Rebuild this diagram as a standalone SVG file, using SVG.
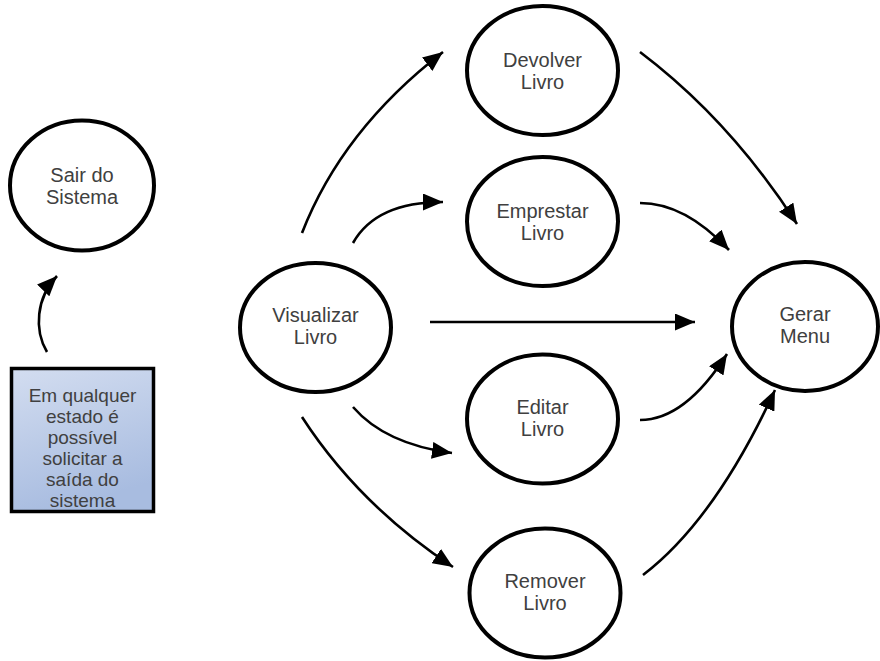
<svg xmlns="http://www.w3.org/2000/svg" width="880" height="661" viewBox="0 0 880 661">
  <style>
    .state ellipse { fill: #ffffff; stroke: #000000; stroke-width: 4; }
    .label { font-family: "Liberation Sans", Arial, sans-serif; font-size: 20px; fill: #404040; text-anchor: middle; }
    .note .label { font-size: 19px; }
    .flow path { fill: none; stroke: #000000; stroke-width: 2.6; marker-end: url(#arrow); }
    .note rect { fill: url(#noteFill); stroke: #000000; stroke-width: 3.5; }
  </style>
  <defs>
    <marker id="arrow" markerUnits="userSpaceOnUse" markerWidth="21" markerHeight="17" refX="20" refY="8.5" orient="auto">
      <path d="M0,0 L20,8.5 L0,17 z" fill="#000000"/>
    </marker>
    <linearGradient id="noteFill" x1="0" y1="0" x2="0.3" y2="1">
      <stop offset="0" stop-color="#d3ddf0"/>
      <stop offset="1" stop-color="#a8bce0"/>
    </linearGradient>
  </defs>

  <rect width="880" height="661" fill="#ffffff"/>

  <!-- connectors -->
  <g id="connectors" class="flow">
    <path d="M47,352 C34,330 36,298 57,276"/>
    <path d="M302,233 Q342,130 443,52"/>
    <path d="M353,243 Q376,202 443,202"/>
    <path d="M430,322 L695,322"/>
    <path d="M353,407 Q385,444 452,453"/>
    <path d="M302,417 Q359,505 453,567"/>
    <path d="M640,52 Q730,120 797,224"/>
    <path d="M640,203 Q685,203 729,250"/>
    <path d="M640,420 Q685,420 727,354"/>
    <path d="M643,575 Q715,520 775,390"/>
  </g>

  <!-- states -->
  <g id="sair-do-sistema" class="state">
    <ellipse cx="82" cy="185.5" rx="72" ry="65"/>
    <text class="label" x="82" y="182">Sair do</text>
    <text class="label" x="82" y="204">Sistema</text>
  </g>

  <g id="visualizar-livro" class="state">
    <ellipse cx="315.5" cy="327.5" rx="75.5" ry="64.5"/>
    <text class="label" x="315.5" y="322">Visualizar</text>
    <text class="label" x="315.5" y="344">Livro</text>
  </g>

  <g id="devolver-livro" class="state">
    <ellipse cx="542.5" cy="70.5" rx="75.5" ry="64.5"/>
    <text class="label" x="542.5" y="67">Devolver</text>
    <text class="label" x="542.5" y="89">Livro</text>
  </g>

  <g id="emprestar-livro" class="state">
    <ellipse cx="542.5" cy="221.5" rx="75.5" ry="64.5"/>
    <text class="label" x="542.5" y="218">Emprestar</text>
    <text class="label" x="542.5" y="240">Livro</text>
  </g>

  <g id="editar-livro" class="state">
    <ellipse cx="542.5" cy="419" rx="75.5" ry="64.5"/>
    <text class="label" x="542.5" y="414">Editar</text>
    <text class="label" x="542.5" y="436">Livro</text>
  </g>

  <g id="remover-livro" class="state">
    <ellipse cx="545" cy="593" rx="75.5" ry="64.5"/>
    <text class="label" x="545" y="588">Remover</text>
    <text class="label" x="545" y="610">Livro</text>
  </g>

  <g id="gerar-menu" class="state">
    <ellipse cx="805" cy="326.5" rx="73" ry="64.5"/>
    <text class="label" x="805" y="321">Gerar</text>
    <text class="label" x="805" y="343">Menu</text>
  </g>

  <!-- note box -->
  <g id="nota-saida" class="note">
    <rect x="11.5" y="368.5" width="142" height="143"/>
    <text class="label" x="82.5" y="402">Em qualquer</text>
    <text class="label" x="82.5" y="423">estado é</text>
    <text class="label" x="82.5" y="444">possível</text>
    <text class="label" x="82.5" y="465">solicitar a</text>
    <text class="label" x="82.5" y="486">saída do</text>
    <text class="label" x="82.5" y="507">sistema</text>
  </g>
</svg>
